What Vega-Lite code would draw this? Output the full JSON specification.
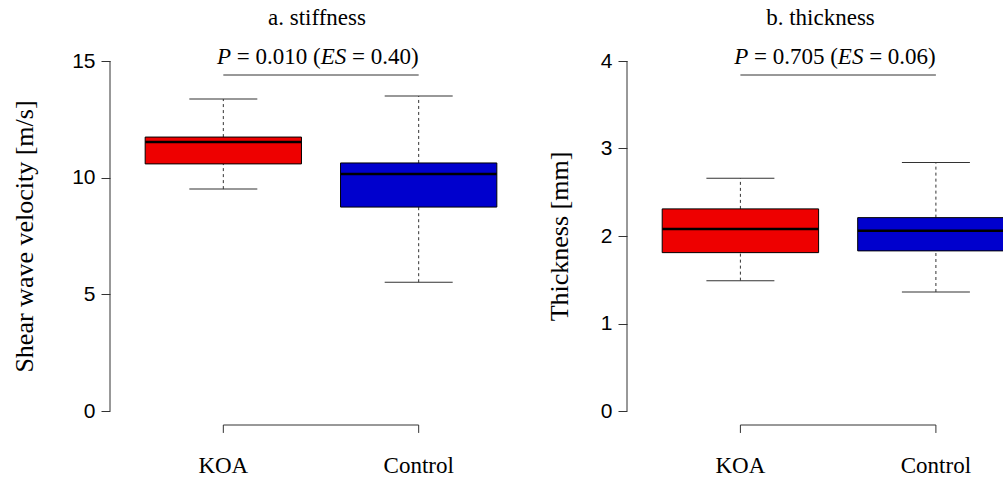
{
  "$schema": "https://vega.github.io/schema/vega-lite/v6.json",
  "padding": {"left": 11, "top": 6, "right": 0, "bottom": 0},
  "spacing": 14,
  "config": {
    "font": "Liberation Serif",
    "view": {"stroke": null},
    "axis": {"grid": false, "domain": false, "tickColor": "#333", "labelColor": "black", "titleColor": "black", "titleFont": "Liberation Serif", "titleFontSize": 26, "titleFontWeight": "normal"},
    "title": {"font": "Liberation Serif", "fontSize": 23, "fontWeight": "normal", "color": "black", "frame": "group", "anchor": "middle"}
  },
  "datasets": {
    "stiffness": [
      {"group": "KOA", "lower": 9.51, "q1": 10.59, "median": 11.53, "q3": 11.74, "upper": 13.37},
      {"group": "Control", "lower": 5.52, "q1": 8.74, "median": 10.16, "q3": 10.63, "upper": 13.5}
    ],
    "thickness": [
      {"group": "KOA", "lower": 1.49, "q1": 1.81, "median": 2.08, "q3": 2.31, "upper": 2.66},
      {"group": "Control", "lower": 1.36, "q1": 1.83, "median": 2.06, "q3": 2.21, "upper": 2.84}
    ]
  },
  "hconcat": [
    {
      "width": 422,
      "height": 378,
      "title": {"text": "a. stiffness", "dx": -4, "offset": 16},
      "data": {"name": "stiffness"},
      "layer": [
        {
          "mark": {"type": "rule", "strokeDash": [3, 3], "color": "#333", "strokeWidth": 1},
          "encoding": {
            "x": {"field": "group", "type": "nominal", "sort": ["KOA", "Control"],
                  "scale": {"paddingInner": 0, "paddingOuter": 0.08},
                  "axis": null},
            "y": {"field": "q3", "type": "quantitative",
                  "scale": {"domain": [-0.6, 15.6], "nice": false, "zero": false},
                  "axis": {"values": [0, 5, 10, 15], "format": "d", "title": "Shear wave velocity [m/s]", "titlePadding": 34, "tickSize": 9, "labelFont": "Liberation Sans", "labelFontSize": 21, "labelPadding": 6, "domain": false}},
            "y2": {"field": "upper"}
          }
        },
        {
          "mark": {"type": "rule", "strokeDash": [3, 3], "color": "#333", "strokeWidth": 1},
          "encoding": {
            "x": {"field": "group", "type": "nominal", "sort": ["KOA", "Control"]},
            "y": {"field": "lower", "type": "quantitative"},
            "y2": {"field": "q1"}
          }
        },
        {
          "mark": {"type": "tick", "size": 68, "thickness": 1, "color": "#333", "opacity": 1},
          "encoding": {
            "x": {"field": "group", "type": "nominal", "sort": ["KOA", "Control"]},
            "y": {"field": "upper", "type": "quantitative"}
          }
        },
        {
          "mark": {"type": "tick", "size": 68, "thickness": 1, "color": "#333", "opacity": 1},
          "encoding": {
            "x": {"field": "group", "type": "nominal", "sort": ["KOA", "Control"]},
            "y": {"field": "lower", "type": "quantitative"}
          }
        },
        {
          "mark": {"type": "bar", "width": {"band": 0.8}, "stroke": "black", "strokeWidth": 1, "opacity": 1},
          "encoding": {
            "x": {"field": "group", "type": "nominal", "sort": ["KOA", "Control"]},
            "y": {"field": "q1", "type": "quantitative"},
            "y2": {"field": "q3"},
            "color": {"field": "group", "type": "nominal", "scale": {"domain": ["KOA", "Control"], "range": ["#EE0000", "#0000CD"]}, "legend": null}
          }
        },
        {
          "mark": {"type": "tick", "size": 156, "thickness": 2.5, "color": "black", "opacity": 1},
          "encoding": {
            "x": {"field": "group", "type": "nominal", "sort": ["KOA", "Control"]},
            "y": {"field": "median", "type": "quantitative"}
          }
        },
        {
          "mark": {"type": "rule", "color": "#333", "strokeWidth": 1},
          "encoding": {
            "x": {"field": "group", "type": "nominal", "sort": ["KOA", "Control"]},
            "y": {"datum": -0.6},
            "y2": {"datum": -0.94}
          }
        },
        {
          "mark": {"type": "text", "font": "Liberation Serif", "fontSize": 23, "baseline": "middle", "align": "center", "color": "black"},
          "encoding": {
            "x": {"field": "group", "type": "nominal", "sort": ["KOA", "Control"]},
            "y": {"datum": -2.36},
            "text": {"field": "group"}
          }
        },
        {
          "data": {"values": [{}]},
          "mark": {"type": "rule", "color": "#333", "strokeWidth": 1},
          "encoding": {
            "x": {"datum": "KOA", "bandPosition": -0.08},
            "y": {"datum": 0},
            "y2": {"datum": 15}
          }
        },
        {
          "data": {"values": [{}]},
          "mark": {"type": "rule", "color": "#333", "strokeWidth": 1},
          "encoding": {
            "x": {"datum": "KOA"},
            "x2": {"datum": "Control"},
            "y": {"datum": -0.6}
          }
        },
        {
          "data": {"values": [{}]},
          "mark": {"type": "rule", "color": "#333", "strokeWidth": 1},
          "encoding": {
            "x": {"datum": "KOA"},
            "x2": {"datum": "Control"},
            "y": {"datum": 14.4}
          }
        },
        {
          "data": {"values": [{}]},
          "mark": {"type": "text", "text": "P", "font": "Liberation Serif", "fontStyle": "italic", "fontSize": 23, "align": "left", "baseline": "middle", "dx": -104, "color": "black"},
          "encoding": {"x": {"datum": "KOA", "bandPosition": 1}, "y": {"datum": 15.17}}
        },
        {
          "data": {"values": [{}]},
          "mark": {"type": "text", "text": "= 0.010 (", "font": "Liberation Serif", "fontSize": 23, "align": "left", "baseline": "middle", "dx": -84.2, "color": "black"},
          "encoding": {"x": {"datum": "KOA", "bandPosition": 1}, "y": {"datum": 15.17}}
        },
        {
          "data": {"values": [{}]},
          "mark": {"type": "text", "text": "ES", "font": "Liberation Serif", "fontStyle": "italic", "fontSize": 23, "align": "left", "baseline": "middle", "dx": -0.3, "color": "black"},
          "encoding": {"x": {"datum": "KOA", "bandPosition": 1}, "y": {"datum": 15.17}}
        },
        {
          "data": {"values": [{}]},
          "mark": {"type": "text", "text": "= 0.40)", "font": "Liberation Serif", "fontSize": 23, "align": "left", "baseline": "middle", "dx": 31, "color": "black"},
          "encoding": {"x": {"datum": "KOA", "bandPosition": 1}, "y": {"datum": 15.17}}
        }
      ]
    },
    {
      "width": 378,
      "height": 378,
      "title": {"text": "b. thickness", "dx": 4.5, "offset": 16},
      "data": {"name": "thickness"},
      "layer": [
        {
          "mark": {"type": "rule", "strokeDash": [3, 3], "color": "#333", "strokeWidth": 1, "clip": true},
          "encoding": {
            "x": {"field": "group", "type": "nominal", "sort": ["KOA", "Control"],
                  "scale": {"paddingInner": 0, "paddingOuter": 0.08, "range": [0, 422.3]},
                  "axis": null},
            "y": {"field": "q3", "type": "quantitative",
                  "scale": {"domain": [-0.16, 4.16], "nice": false, "zero": false},
                  "axis": {"values": [0, 1, 2, 3, 4], "format": "d", "title": "Thickness [mm]", "titlePadding": 28, "tickSize": 9, "labelFont": "Liberation Sans", "labelFontSize": 21, "labelPadding": 6, "domain": false}},
            "y2": {"field": "upper"}
          }
        },
        {
          "mark": {"type": "rule", "strokeDash": [3, 3], "color": "#333", "strokeWidth": 1, "clip": true},
          "encoding": {
            "x": {"field": "group", "type": "nominal", "sort": ["KOA", "Control"]},
            "y": {"field": "lower", "type": "quantitative"},
            "y2": {"field": "q1"}
          }
        },
        {
          "mark": {"type": "tick", "size": 68, "thickness": 1, "color": "#333", "opacity": 1, "clip": true},
          "encoding": {
            "x": {"field": "group", "type": "nominal", "sort": ["KOA", "Control"]},
            "y": {"field": "upper", "type": "quantitative"}
          }
        },
        {
          "mark": {"type": "tick", "size": 68, "thickness": 1, "color": "#333", "opacity": 1, "clip": true},
          "encoding": {
            "x": {"field": "group", "type": "nominal", "sort": ["KOA", "Control"]},
            "y": {"field": "lower", "type": "quantitative"}
          }
        },
        {
          "mark": {"type": "bar", "width": {"band": 0.8}, "stroke": "black", "strokeWidth": 1, "opacity": 1, "clip": true},
          "encoding": {
            "x": {"field": "group", "type": "nominal", "sort": ["KOA", "Control"]},
            "y": {"field": "q1", "type": "quantitative"},
            "y2": {"field": "q3"},
            "color": {"field": "group", "type": "nominal", "scale": {"domain": ["KOA", "Control"], "range": ["#EE0000", "#0000CD"]}, "legend": null}
          }
        },
        {
          "mark": {"type": "tick", "size": 156, "thickness": 2.5, "color": "black", "opacity": 1, "clip": true},
          "encoding": {
            "x": {"field": "group", "type": "nominal", "sort": ["KOA", "Control"]},
            "y": {"field": "median", "type": "quantitative"}
          }
        },
        {
          "mark": {"type": "rule", "color": "#333", "strokeWidth": 1},
          "encoding": {
            "x": {"field": "group", "type": "nominal", "sort": ["KOA", "Control"]},
            "y": {"datum": -0.16},
            "y2": {"datum": -0.251}
          }
        },
        {
          "mark": {"type": "text", "font": "Liberation Serif", "fontSize": 23, "baseline": "middle", "align": "center", "color": "black"},
          "encoding": {
            "x": {"field": "group", "type": "nominal", "sort": ["KOA", "Control"]},
            "y": {"datum": -0.629},
            "text": {"field": "group"}
          }
        },
        {
          "data": {"values": [{}]},
          "mark": {"type": "rule", "color": "#333", "strokeWidth": 1},
          "encoding": {
            "x": {"datum": "KOA", "bandPosition": -0.08},
            "y": {"datum": 0},
            "y2": {"datum": 4}
          }
        },
        {
          "data": {"values": [{}]},
          "mark": {"type": "rule", "color": "#333", "strokeWidth": 1},
          "encoding": {
            "x": {"datum": "KOA"},
            "x2": {"datum": "Control"},
            "y": {"datum": -0.16}
          }
        },
        {
          "data": {"values": [{}]},
          "mark": {"type": "rule", "color": "#333", "strokeWidth": 1},
          "encoding": {
            "x": {"datum": "KOA"},
            "x2": {"datum": "Control"},
            "y": {"datum": 3.84}
          }
        },
        {
          "data": {"values": [{}]},
          "mark": {"type": "text", "text": "P", "font": "Liberation Serif", "fontStyle": "italic", "fontSize": 23, "align": "left", "baseline": "middle", "dx": -104, "color": "black"},
          "encoding": {"x": {"datum": "KOA", "bandPosition": 1}, "y": {"datum": 4.046}}
        },
        {
          "data": {"values": [{}]},
          "mark": {"type": "text", "text": "= 0.705 (", "font": "Liberation Serif", "fontSize": 23, "align": "left", "baseline": "middle", "dx": -84.2, "color": "black"},
          "encoding": {"x": {"datum": "KOA", "bandPosition": 1}, "y": {"datum": 4.046}}
        },
        {
          "data": {"values": [{}]},
          "mark": {"type": "text", "text": "ES", "font": "Liberation Serif", "fontStyle": "italic", "fontSize": 23, "align": "left", "baseline": "middle", "dx": -0.3, "color": "black"},
          "encoding": {"x": {"datum": "KOA", "bandPosition": 1}, "y": {"datum": 4.046}}
        },
        {
          "data": {"values": [{}]},
          "mark": {"type": "text", "text": "= 0.06)", "font": "Liberation Serif", "fontSize": 23, "align": "left", "baseline": "middle", "dx": 31, "color": "black"},
          "encoding": {"x": {"datum": "KOA", "bandPosition": 1}, "y": {"datum": 4.046}}
        }
      ]
    }
  ]
}
